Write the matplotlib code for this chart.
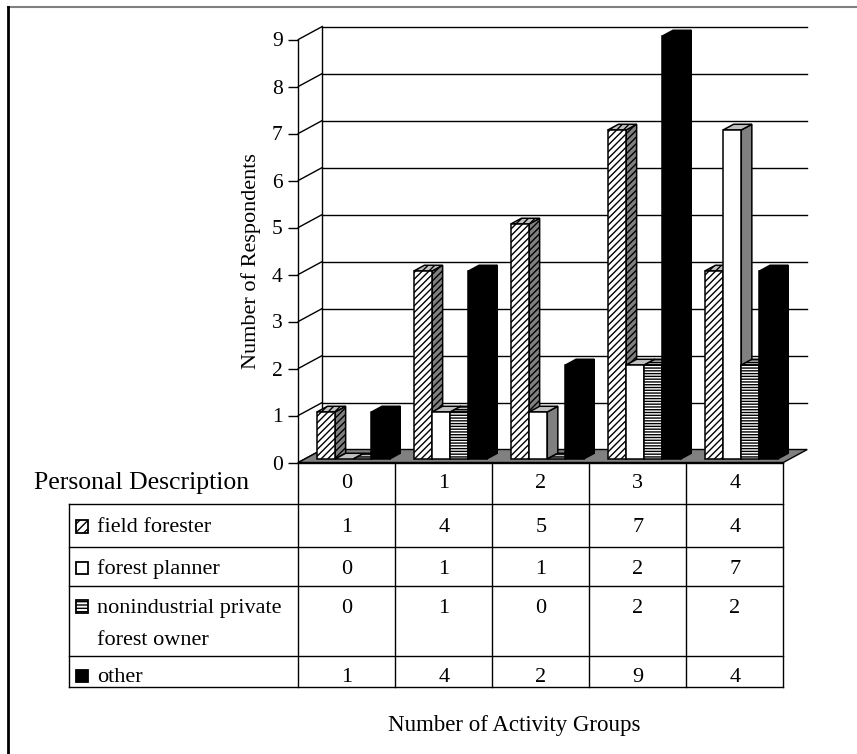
import matplotlib
matplotlib.use("Agg")
import matplotlib.pyplot as plt
from matplotlib.patches import Polygon, Rectangle

plt.rcParams["font.family"] = ["Liberation Serif", "DejaVu Serif"]
plt.rcParams["hatch.linewidth"] = 1.0

# ---- data -------------------------------------------------------------
groups = ["0", "1", "2", "3", "4"]
series_labels = ["field forester", "forest planner",
                 "nonindustrial private\nforest owner", "other"]
field_forester = [1, 4, 5, 7, 4]
forest_planner = [0, 1, 1, 2, 7]
nonindustrial_owner = [0, 1, 0, 2, 2]
other = [1, 4, 2, 9, 4]
y_ticks = list(range(0, 10))

series_values = [field_forester, forest_planner, nonindustrial_owner, other]

# face styles: (front, side, top, hatch)
styles = [
    ("white", "#808080", "#c0c0c0", "/////"),
    ("white", "#808080", "#c0c0c0", None),
    ("white", "#808080", "#c0c0c0", "------"),
    ("black", "black", "black", None),
]
icon_hatch = ["////", None, "-----", None]

# ---- page layout (pixels) --------------------------------------------
W, H = 857, 754
X0, X1 = 298.3, 783.3          # front plane left / right
Y0, Y9 = 462.5, 39.5           # value 0 / value 9 on the front axis
DEPTH_PX = (24.0, 13.0)        # oblique depth offset of the back wall

fig = plt.figure(figsize=(W / 100, H / 100), dpi=100)

page = fig.add_axes([0, 0, 1, 1], zorder=0)
page.set_xlim(0, W)
page.set_ylim(H, 0)
page.axis("off")

ax = fig.add_axes([X0 / W, 1 - Y0 / H, (X1 - X0) / W, (Y0 - Y9) / H], zorder=1)
ax.patch.set_visible(False)
n_cat = len(groups)
ymax = y_ticks[-1]
ax.set_xlim(0, n_cat)
ax.set_ylim(0, ymax)

DX = DEPTH_PX[0] / ((X1 - X0) / n_cat)
DY = DEPTH_PX[1] / ((Y0 - Y9) / ymax)


def P(x, v, d):
    return (x + d * DX, v + d * DY)


# ---- walls, grid, floor ----------------------------------------------
lw_wall = 1.0
for v in y_ticks[1:]:
    ax.plot([DX, n_cat + DX], [v + DY, v + DY], color="black", lw=lw_wall,
            clip_on=False, zorder=1)
for v in y_ticks:
    ax.plot([0, DX], [v, v + DY], color="black", lw=lw_wall, clip_on=False, zorder=1)
ax.plot([DX, DX], [DY, ymax + DY], color="black", lw=lw_wall, clip_on=False, zorder=1)

floor = Polygon([P(0, 0, 0), P(n_cat, 0, 0), P(n_cat, 0, 1), P(0, 0, 1)],
                closed=True, facecolor="#808080", edgecolor="black", lw=1.0,
                clip_on=False, zorder=2)
ax.add_patch(floor)

# ---- bars ---------------------------------------------------------------
bw = 18.2 / ((X1 - X0) / n_cat)
gap = (1 - len(series_values) * bw) / 2
d0, d1 = 0.27, 0.71

for i in range(n_cat):
    for j, vals in enumerate(series_values):
        v = vals[i]
        front, side, top, hatch = styles[j]
        xl = i + gap + j * bw
        xr = xl + bw
        z = 3 + j
        kw = dict(closed=True, edgecolor="black", lw=1.1, clip_on=False, zorder=z)
        if v > 0:
            ax.add_patch(Polygon([P(xr, 0, d0), P(xr, 0, d1), P(xr, v, d1), P(xr, v, d0)],
                                 facecolor=side, hatch=hatch, **kw))
        ax.add_patch(Polygon([P(xl, v, d0), P(xr, v, d0), P(xr, v, d1), P(xl, v, d1)],
                             facecolor=top, hatch=hatch, **kw))
        if v > 0:
            ax.add_patch(Polygon([P(xl, 0, d0), P(xr, 0, d0), P(xr, v, d0), P(xl, v, d0)],
                                 facecolor=front, hatch=hatch, **kw))

# ---- value axis -------------------------------------------------------
for s in ("top", "right", "bottom"):
    ax.spines[s].set_visible(False)
ax.spines["left"].set_linewidth(1.0)
ax.set_xticks([])
ax.set_yticks(y_ticks)
ax.set_yticklabels([str(t) for t in y_ticks], fontsize=15.5)
ax.tick_params(axis="y", direction="out", length=7.2, width=1.0, pad=4)
ax.set_ylabel("Number of Respondents", fontsize=16)
ax.yaxis.set_label_coords((251 - X0) / (X1 - X0), 0.5 - (261.5 - (Y0 + Y9) / 2) / (Y0 - Y9))
ax.yaxis.label.set_va("center")

# ---- data table -------------------------------------------------------
col_edges = [X0 + k * (X1 - X0) / n_cat for k in range(n_cat + 1)]
row_edges = [504.0, 546.7, 586.0, 656.3, 686.7]
table_left = 69.5
tlw = 1.0

page.plot([X0, X1], [Y0, Y0], color="black", lw=tlw)
for y in row_edges:
    page.plot([table_left, X1], [y, y], color="black", lw=tlw)
page.plot([table_left, table_left], [row_edges[0], row_edges[-1]], color="black", lw=tlw)
for x in col_edges:
    page.plot([x, x], [Y0, row_edges[-1]], color="black", lw=tlw)

fs_tab = 16
col_centers = [(col_edges[k] + col_edges[k + 1]) / 2 for k in range(n_cat)]
for k, g in enumerate(groups):
    page.text(col_centers[k], 488.3, g, fontsize=fs_tab, ha="center", va="baseline")

page.text(34, 488.5, "Personal Description", fontsize=18.5, ha="left", va="baseline")

row_baselines = [532.5, 574.0, 612.7, 682.3]
line_step = 32.3
for j, vals in enumerate(series_values):
    yb = row_baselines[j]
    for k, v in enumerate(vals):
        page.text(col_centers[k], yb, str(v), fontsize=fs_tab, ha="center", va="baseline")
    for n, line in enumerate(series_labels[j].split("\n")):
        page.text(96.8, yb + n * line_step, line, fontsize=fs_tab, ha="left", va="baseline")
    front, side, top, hatch = styles[j]
    page.add_patch(Rectangle((76.0, yb - 12.5), 12, 12.5, facecolor=front,
                             edgecolor="black", lw=1.3, hatch=icon_hatch[j]))

page.text(514.5, 731.0, "Number of Activity Groups", fontsize=16.5,
          ha="center", va="baseline")

# ---- outer frame -----------------------------------------------------
page.plot([8, W], [7, 7], color="#808080", lw=1.5)
page.plot([8, 8], [7, H], color="black", lw=2.0)

fig.savefig("out.png", dpi=100)
